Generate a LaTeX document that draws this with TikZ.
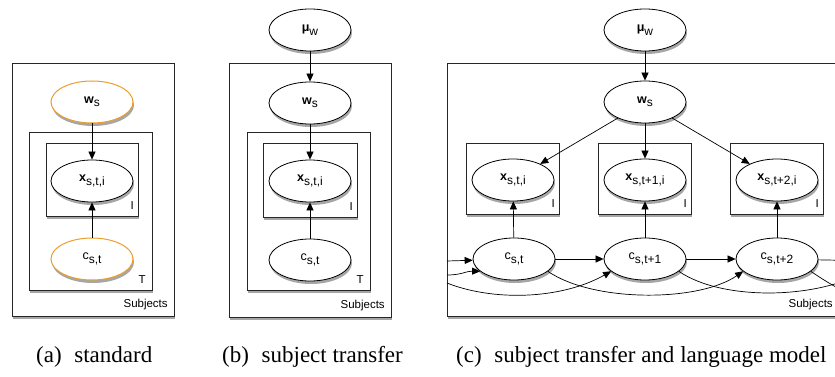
\documentclass[tikz,border=0pt]{standalone}
\usepackage{fontspec}
\setmainfont{Liberation Serif}
\newfontfamily\nodefont{Liberation Sans}
\usetikzlibrary{arrows.meta,shadows,shapes.geometric}
\definecolor{orng}{RGB}{236,158,44}
\newcommand{\vlab}[2]{#1\raisebox{-3.5pt}{\fontsize{12}{13}\selectfont #2}}
\tikzset{
  shad/.style={drop shadow={shadow xshift=1pt, shadow yshift=-3pt, opacity=0.35, fill=black}},
  var/.style={ellipse, draw=black, line width=0.8pt, fill=white, minimum width=82pt, minimum height=42pt,
    inner sep=0pt, font=\nodefont\fontsize{12.5}{14}\selectfont, shad},
  obs/.style={var, draw=orng, line width=1pt},
  plate/.style={draw=black!85, line width=0.9pt, fill=white, inner sep=0pt, shad, anchor=north west},
  plab/.style={anchor=base east, inner sep=0pt, font=\nodefont\fontsize{11.5}{13}\selectfont},
  arr/.style={-{Triangle[length=8pt,width=7pt]}, line width=0.7pt, black},
  cn/.style={line width=0.7pt, black},
  capt/.style={anchor=base west, inner sep=0pt, font=\fontsize{23}{26}\selectfont},
}
\begin{document}
\begin{tikzpicture}[x=1pt,y=-1pt]
\useasboundingbox (0,0) rectangle (835,377);
\clip (0,0) rectangle (835,377);
% ---------------- (a)
\node[plate, minimum width=162pt, minimum height=253pt] (Sa) at (12,63) {};
\node[plate, minimum width=123pt, minimum height=158pt] (Ta) at (29,132) {};
\node[plate, minimum width=92pt, minimum height=73pt] (Ia) at (46,143) {};
\node[obs] (wa) at (92,102) {\vlab{\textbf{w}}{s}};
\node[var] (xa) at (92,181) {\vlab{\textbf{x}}{s,t,i}};
\node[obs] (ca) at (92,259) {\vlab{c}{s,t}};
\node[plab] (la1) at ([xshift=-5pt,yshift=7pt]Ia.south east) {I};
\node[plab] (la2) at ([xshift=-7pt,yshift=7pt]Ta.south east) {T};
\node[plab] (la3) at ([xshift=-7pt,yshift=9pt]Sa.south east) {Subjects};
\draw[arr] (wa) -- (xa);
\draw[arr] (ca) -- (xa);
% ---------------- (b)
\node[var] (mb) at (310,30) {\vlab{\textbf{μ}}{w}};
\node[plate, minimum width=162pt, minimum height=254pt] (Sb) at (229,63) {};
\node[plate, minimum width=123pt, minimum height=158pt] (Tb) at (247,132) {};
\node[plate, minimum width=94pt, minimum height=74pt] (Ib) at (263,143) {};
\node[var] (wb) at (310,103) {\vlab{\textbf{w}}{s}};
\node[var] (xb) at (310,181) {\vlab{\textbf{x}}{s,t,i}};
\node[var] (cb) at (310,260) {\vlab{c}{s,t}};
\node[plab] (lb1) at ([xshift=-5pt,yshift=7pt]Ib.south east) {I};
\node[plab] (lb2) at ([xshift=-7pt,yshift=7pt]Tb.south east) {T};
\node[plab] (lb3) at ([xshift=-7pt,yshift=9pt]Sb.south east) {Subjects};
\draw[arr] (mb) -- (wb);
\draw[arr] (wb) -- (xb);
\draw[arr] (cb) -- (xb);
% ---------------- (c)
\node[var] (mc) at (645,30) {\vlab{\textbf{μ}}{w}};
\node[plate, minimum width=392pt, minimum height=253pt] (Sc) at (447,63) {};
\node[plate, minimum width=93pt, minimum height=71pt] (I1) at (466,143) {};
\node[plate, minimum width=93pt, minimum height=71pt] (I2) at (598,143) {};
\node[plate, minimum width=93pt, minimum height=71pt] (I3) at (730,143) {};
\node[var] (wc) at (645,102) {\vlab{\textbf{w}}{s}};
\node[var] (x1) at (513,180) {\vlab{\textbf{x}}{s,t,i}};
\node[var] (x2) at (645,180) {\vlab{\textbf{x}}{s,t+1,i}};
\node[var] (x3) at (777,180) {\vlab{\textbf{x}}{s,t+2,i}};
\node[var] (c1) at (514,259) {\vlab{c}{s,t}};
\node[var] (c2) at (645,259) {\vlab{c}{s,t+1}};
\node[var] (c3) at (777,259) {\vlab{c}{s,t+2}};
\node[plab] (lc1) at ([xshift=-5pt,yshift=7pt]I1.south east) {I};
\node[plab] (lc2) at ([xshift=-5pt,yshift=7pt]I2.south east) {I};
\node[plab] (lc3) at ([xshift=-5pt,yshift=7pt]I3.south east) {I};
\node[plab] (lc4) at ([xshift=-7pt,yshift=9pt]Sc.south east) {Subjects};
\coordinate (in1) at (447,261);
\coordinate (in2) at (447,275);
\coordinate (in3) at (447,283);
\coordinate (out1) at (875,261);
\coordinate (out2) at (870,268);
\coordinate (out3) at (950,292);
\draw[arr] (mc) -- (wc);
\draw[arr] (wc) -- (x1);
\draw[arr] (wc) -- (x2);
\draw[arr] (wc) -- (x3);
\draw[arr] (c1) -- (x1);
\draw[arr] (c2) -- (x2);
\draw[arr] (c3) -- (x3);
\draw[arr] (in1) -- (c1);
\draw[arr] (c1) -- (c2);
\draw[arr] (c2) -- (c3);
\draw[cn] (c3) -- (out1);
\draw[arr] (in2) .. controls (462,275) and (466,271) .. (c1.200);
\draw[arr] (in3) .. controls (492,301) and (560,300) .. (c2.200);
\draw[arr] (c1.-20) .. controls +(45,31) and +(-45,31) .. (c3.200);
\draw[cn] (c2.-20) .. controls +(45,31) and +(-45,31) .. (out2);
\draw[cn] (c3.-20) .. controls +(45,31) and +(-45,31) .. (out3);
% ---------------- captions
\node[capt] (ka) at (36,362) {(a)\hspace{0.55em}standard};
\node[capt] (kb) at (222,362) {(b)\hspace{0.55em}subject transfer};
\node[capt] (kc) at (456,362) {(c)\hspace{0.55em}subject transfer and language model};
\end{tikzpicture}
\end{document}
